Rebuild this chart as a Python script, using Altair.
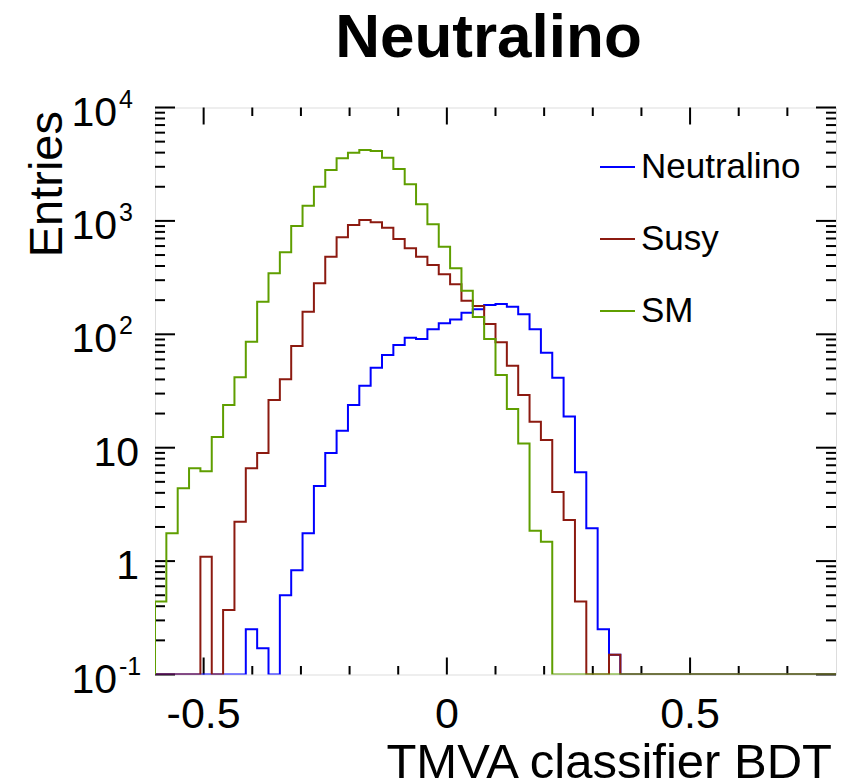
import altair as alt
import pandas as pd

# ---------------- data ----------------
TITLE = "Neutralino"
X_TITLE = "TMVA classifier BDT"
Y_TITLE = "Entries"
SERIES = ["Neutralino", "Susy", "SM"]
COLORS = ["#0000ff", "#8c1a10", "#5f9e00"]
X_MIN, X_MAX, N_BINS = -0.6, 0.8, 60

NEUTRALINO = [0, 0, 0, 0, 0, 0, 0, 0,
              0.25, 0.17, 0, 0.50, 0.83, 1.76, 4.6, 9.0, 14.1, 23.8, 35.2, 50.7,
              65.7, 80.5, 93.3, 90.9, 111, 125, 135, 155, 166, 181,
              185, 175, 150, 111, 68.8, 41.4, 18.8, 6.07, 1.95, 0.25,
              0.149] + [0] * 19
SUSY = [0, 0, 0, 0, 1.09, 0, 0.37, 2.22, 6.6, 9.0,
        26.3, 40.1, 78.9, 158, 282, 483, 717, 920, 1018, 972,
        871, 692, 573, 483, 408, 338, 276, 198, 178, 123,
        85, 52.8, 29.2, 16.9, 11.7, 4.07, 2.30, 0.44, 0, 0,
        0.149] + [0] * 19
SM = [0.44, 1.76, 4.4, 6.6, 6.2, 12.4, 23.8, 41.8, 86, 194,
      345, 529, 901, 1362, 2003, 2811, 3565, 3993, 4219, 4132,
      3608, 2870, 2104, 1400, 933, 593, 382, 242, 142, 91,
      43.7, 21.9, 10.9, 1.85, 1.48] + [0] * 25

X_TICK_VALUES = [-0.5, 0.0, 0.5]
X_TICK_LABELS = ["-0.5", "0", "0.5"]
Y_TICK_VALUES = [1e4, 1e3, 1e2, 10, 1, 0.1]
Y_TICK_BASES = ["10", "10", "10", "10", "1", "10"]
Y_TICK_EXPONENTS = ["4", "3", "2", "", "", "-1"]

assert len(NEUTRALINO) == len(SUSY) == len(SM) == N_BINS

# ---------------- layout ----------------
W, H = 681, 567
FONT = "Liberation Sans"

bin_w = (X_MAX - X_MIN) / N_BINS
rows = []
for name, vals in zip(SERIES, [NEUTRALINO, SUSY, SM]):
    rows.append({"series": name, "x": X_MIN, "v": 0, "i": 0})
    for k, v in enumerate(vals):
        rows.append({"series": name, "x": X_MIN + k * bin_w, "v": v, "i": k + 1})
    rows.append({"series": name, "x": X_MAX, "v": vals[-1], "i": N_BINS + 1})
hist_df = pd.DataFrame(rows)

xs = alt.Scale(domain=[X_MIN, X_MAX], nice=False, zero=False)
ys = alt.Scale(type="log", domain=[0.1, 10000], nice=False)
cs = alt.Scale(domain=SERIES, range=COLORS)

legend = alt.Legend(
    title=None, orient="none", legendX=444, legendY=41, direction="vertical",
    symbolType="stroke", symbolSize=1225, symbolStrokeWidth=2,
    labelFontSize=35, labelFont=FONT, labelColor="black", labelOffset=5,
    rowPadding=35, padding=0, symbolOffset=0,
)


def hist_layer(name):
    return (
        alt.Chart(hist_df)
        .transform_filter(alt.datum.series == name)
        .transform_calculate(vc="max(datum.v, 0.1)")
        .mark_line(interpolate="step-after", strokeWidth=2, clip=True)
        .encode(
            x=alt.X("x:Q", scale=xs, axis=None),
            y=alt.Y("vc:Q", scale=ys, axis=None),
            color=alt.Color("series:N", scale=cs, legend=legend),
            order=alt.Order("i:Q"),
        )
    )


# tick positions (axis decoration)
x_major = [-0.5, 0.0, 0.5]
x_minor = [round(-0.5 + 0.1 * i, 1) for i in range(13) if round(-0.5 + 0.1 * i, 1) not in x_major]
y_major = [0.1, 1, 10, 100, 1000, 10000]
y_minor = [m * 10 ** e for e in range(-1, 4) for m in range(2, 10)]


def xrules(vals, length, side):
    d = pd.DataFrame({"t": vals})
    if side == "bottom":
        yv, y2v = H, H - length
    else:
        yv, y2v = 0, length
    return alt.Chart(d).mark_rule(color="black", strokeWidth=2).encode(
        x=alt.X("t:Q", scale=xs, axis=None), y=alt.value(yv), y2=alt.value(y2v))


def yrules(vals, length, side):
    d = pd.DataFrame({"t": vals})
    if side == "left":
        xv, x2v = 0, length
    else:
        xv, x2v = W, W - length
    return alt.Chart(d).mark_rule(color="black", strokeWidth=2).encode(
        y=alt.Y("t:Q", scale=ys, axis=None), x=alt.value(xv), x2=alt.value(x2v))


ticks = [
    xrules(x_major, 17, "bottom"), xrules(x_minor, 8.5, "bottom"),
    xrules(x_major, 17, "top"), xrules(x_minor, 8.5, "top"),
    yrules(y_major, 20, "left"), yrules(y_minor, 10, "left"),
    yrules(y_major, 20, "right"), yrules(y_minor, 10, "right"),
]

# tick labels
xlab_df = pd.DataFrame({"t": X_TICK_VALUES, "lab": X_TICK_LABELS})
xlabels = alt.Chart(xlab_df).mark_text(
    font=FONT, fontSize=43, align="center", baseline="alphabetic", color="black"
).encode(x=alt.X("t:Q", scale=xs, axis=None), y=alt.value(620.5), text="lab:N")

ylab_df = pd.DataFrame({"t": Y_TICK_VALUES, "base": Y_TICK_BASES, "exp": Y_TICK_EXPONENTS})
ylab_plain = alt.Chart(ylab_df).transform_filter("datum.exp == ''").mark_text(
    font=FONT, fontSize=41, align="right", baseline="alphabetic", dy=18, color="black"
).encode(y=alt.Y("t:Q", scale=ys, axis=None), x=alt.value(-16), text="base:N")
ylab_base = alt.Chart(ylab_df).transform_filter("datum.exp != ''").mark_text(
    font=FONT, fontSize=41, align="right", baseline="alphabetic", dy=18, color="black"
).encode(y=alt.Y("t:Q", scale=ys, axis=None), x=alt.value(-38), text="base:N")
ylab_exp = alt.Chart(ylab_df).transform_filter("datum.exp != ''").mark_text(
    font=FONT, fontSize=25, align="left", baseline="alphabetic", dy=0, color="black"
).encode(y=alt.Y("t:Q", scale=ys, axis=None), x=alt.value(-36), text="exp:N")

# titles
title_mark = alt.Chart(pd.DataFrame({"s": [TITLE]})).mark_text(
    font=FONT, fontSize=62, fontWeight="bold", align="center", baseline="alphabetic", color="black"
).encode(x=alt.value(333.5), y=alt.value(-50.8), text="s:N")
xtitle_mark = alt.Chart(pd.DataFrame({"s": [X_TITLE]})).mark_text(
    font=FONT, fontSize=49, align="right", baseline="alphabetic", color="black"
).encode(x=alt.value(677), y=alt.value(670), text="s:N")
ytitle_mark = alt.Chart(pd.DataFrame({"s": [Y_TITLE]})).mark_text(
    font=FONT, fontSize=47, align="right", baseline="alphabetic", angle=270, color="black"
).encode(x=alt.value(-93), y=alt.value(3.5), text="s:N")

chart = alt.layer(
    *ticks,
    hist_layer("Neutralino"), hist_layer("Susy"), hist_layer("SM"),
    xlabels, ylab_plain, ylab_base, ylab_exp,
    title_mark, xtitle_mark, ytitle_mark,
).properties(
    width=W, height=H,
    autosize=alt.AutoSizeParams(type="none"),
    padding={"left": 147, "top": 99.5, "right": 5, "bottom": 107.5},
).configure_view(
    stroke="black", strokeWidth=2.5
).configure(font=FONT, background="white")

chart.save("out.html", embed_options={"renderer": "svg", "actions": False})
